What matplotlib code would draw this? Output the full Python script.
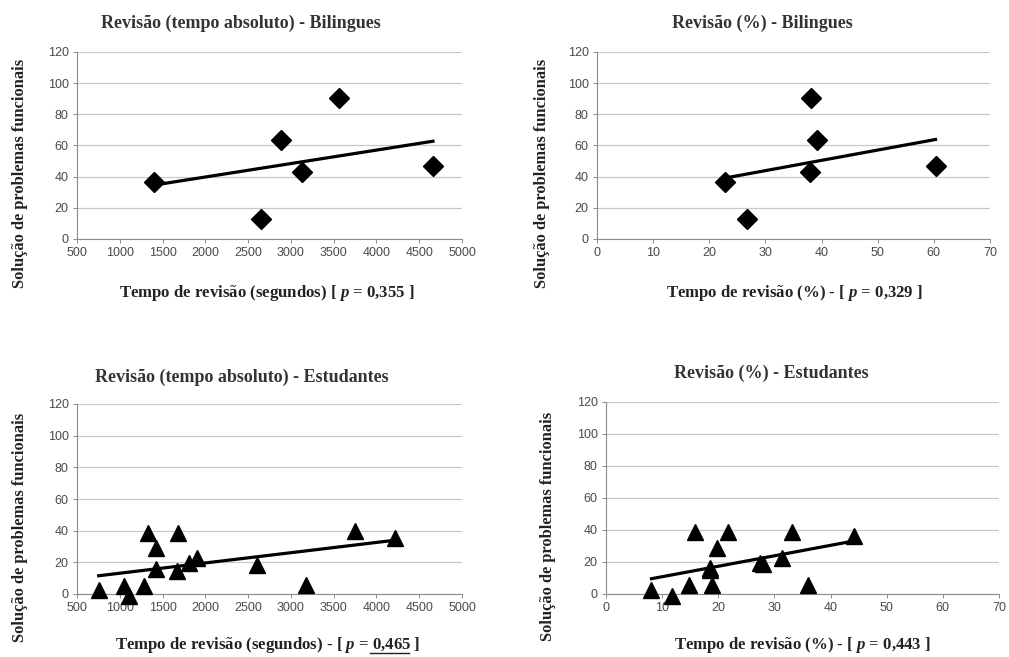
import numpy as np
import matplotlib
matplotlib.use("Agg")
import matplotlib.pyplot as plt
from matplotlib.lines import Line2D

plt.rcParams['mathtext.fontset'] = 'custom'
plt.rcParams['mathtext.it'] = 'Liberation Serif:italic:bold'
plt.rcParams['mathtext.rm'] = 'Liberation Serif:bold'
plt.rcParams['mathtext.bf'] = 'Liberation Serif:bold'

# Bilingues
bil_abs_x = [1396, 2651, 2888, 3130, 3566, 4661]
bil_pct_x = [22.8, 26.8, 39.1, 38.0, 38.1, 60.3]
bil_y = [36.4, 12.8, 63.7, 43, 90.5, 46.6]

# Estudantes (segundos)
est_abs_x = [753, 1046, 1104, 1280, 1330, 1423, 1423, 1680, 1669, 1805, 1902, 2604, 3180, 3753, 4221]
est_abs_y = [2.5, 5, -1.3, 5, 38.7, 28.9, 15.6, 38.7, 14.7, 19.4, 22.5, 18.3, 5.9, 39.5, 35.3]
# Estudantes (%)
est_pct_x = [8.1, 11.8, 14.7, 15.9, 18.8, 18.6, 18.6, 19.8, 21.8, 27.4, 28.0, 31.3, 33.1, 36.0, 44.2]
est_pct_y = [2.5, -1.3, 5.7, 38.7, 5.7, 16.2, 15.0, 28.9, 38.7, 19.4, 19.0, 22.5, 38.7, 5.7, 36.2]

titles = ["Revisão (tempo absoluto) - Bilingues", "Revisão (%) - Bilingues",
          "Revisão (tempo absoluto) - Estudantes", "Revisão (%) - Estudantes"]
# (text before the p-value, p-value, text after)
xlabels = [("Tempo de revisão (segundos) [ $\\mathit{p}$ = ", "$\\mathit{0{,}355}$", " ]"),
           ("Tempo de revisão (%) - [ $\\mathit{p}$ = ", "$\\mathit{0{,}329}$", " ]"),
           ("Tempo de revisão (segundos) - [ $\\mathit{p}$ = ", "$\\mathit{0{,}465}$", " ]"),
           ("Tempo de revisão (%) - [ $\\mathit{p}$ = ", "$\\mathit{0{,}443}$", " ]")]
underlined = [False, False, True, False]
ylabel = "Solução de problemas funcionais"

W, H = 1009, 657
fig = plt.figure(figsize=(W / 100, H / 100), dpi=100)
fig.patch.set_facecolor("white")

def px_axes(l, t, r, b):
    return fig.add_axes([l / W, 1 - b / H, (r - l) / W, (b - t) / H])

panels = [
    dict(box=(77, 52, 462, 239), x=bil_abs_x, y=bil_y, m='D', ms=10, xlim=(500, 5000), xt=np.arange(500, 5001, 500),
         title=(241, 23), xl=(267, 293), yl=(20, 173)),
    dict(box=(597, 52, 990, 239), x=bil_pct_x, y=bil_y, m='D', ms=10, xlim=(0, 70), xt=np.arange(0, 71, 10),
         title=(762, 23), xl=(794, 293), yl=(542, 173)),
    dict(box=(77, 404, 462, 594), x=est_abs_x, y=est_abs_y, m='^', ms=11.5, xlim=(500, 5000), xt=np.arange(500, 5001, 500),
         title=(242, 377), xl=(268, 645), yl=(20, 527)),
    dict(box=(606, 402, 999, 594), x=est_pct_x, y=est_pct_y, m='^', ms=11.5, xlim=(0, 70), xt=np.arange(0, 71, 10),
         title=(771, 373), xl=(802, 645), yl=(548, 526)),
]

lab_kw = dict(fontsize=12.1, fontweight='bold', family='Liberation Serif', color="#222222")
renderer = fig.canvas.get_renderer()

def text_width(s):
    t = fig.text(0, 0, s, **lab_kw)
    w = t.get_window_extent(renderer).width
    t.remove()
    return w

grey = "#8c8c8c"
for i, p in enumerate(panels):
    ax = px_axes(*p['box'])
    x = np.array(p['x'], dtype=float)
    y = np.array(p['y'], dtype=float)
    ax.plot(x, y, linestyle='none', marker=p['m'], ms=p['ms'], color='black', zorder=3, clip_on=False)
    k, c = np.polyfit(x, y, 1)
    xs = np.array([x.min(), x.max()])
    ax.plot(xs, k * xs + c, color='black', lw=2.3, zorder=4)
    ax.set_xlim(*p['xlim'])
    ax.set_ylim(0, 120)
    ax.set_xticks(p['xt'])
    ax.set_yticks(np.arange(0, 121, 20))
    ax.yaxis.grid(True, color="#c8c8c8", lw=0.9)
    ax.set_axisbelow(True)
    for s in ['top', 'right']:
        ax.spines[s].set_visible(False)
    for s in ['left', 'bottom']:
        ax.spines[s].set_color(grey)
        ax.spines[s].set_linewidth(0.8)
    ax.tick_params(axis='both', colors=grey, labelcolor="#4a4a4a", labelsize=9, length=3, width=0.7, pad=3)
    for lbl in ax.get_xticklabels() + ax.get_yticklabels():
        lbl.set_fontfamily('Liberation Sans')
    fig.text(p['title'][0] / W, 1 - p['title'][1] / H, titles[i], ha='center', va='center',
             fontsize=13, fontweight='bold', family='Liberation Serif', color="#333333")

    pre, val, post = xlabels[i]
    fig.text(p['xl'][0] / W, 1 - p['xl'][1] / H, pre + val + post, ha='center', va='center', **lab_kw)
    if underlined[i]:
        w_all = text_width(pre + val + post)
        w_pre = text_width(pre)
        w_val = text_width(val)
        x0 = p['xl'][0] - w_all / 2 + w_pre
        yy = p['xl'][1] + 8
        fig.add_artist(Line2D([x0 / W, (x0 + w_val) / W], [1 - yy / H, 1 - yy / H],
                              transform=fig.transFigure, color="#222222", lw=1.0))

    fig.text(p['yl'][0] / W, 1 - p['yl'][1] / H, ylabel, ha='center', va='center', rotation=90,
             fontsize=11.8, fontweight='bold', family='Liberation Serif', color="#222222")

fig.savefig("out.png", dpi=100)
